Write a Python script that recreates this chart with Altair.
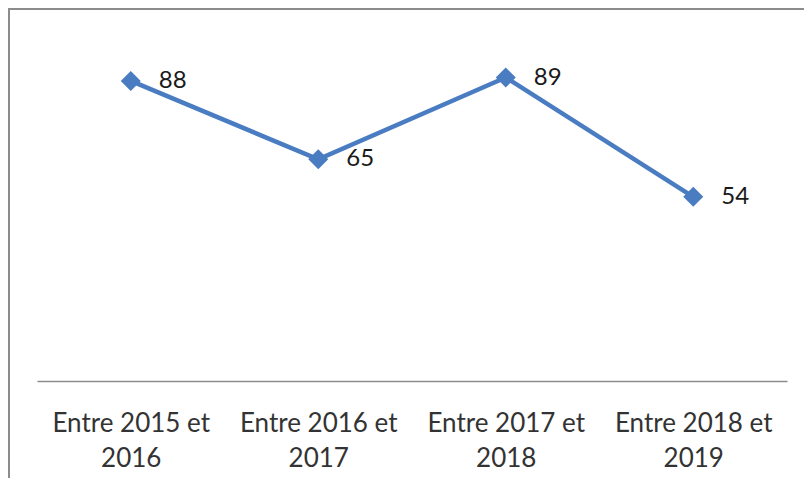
import altair as alt
import pandas as pd

categories = ["Entre 2015 et 2016", "Entre 2016 et 2017", "Entre 2017 et 2018", "Entre 2018 et 2019"]
values = [88, 65, 89, 54]

df = pd.DataFrame({"periode": categories, "valeur": values})

W, H = 750, 341
PL, PT, PR, PB = 29, 32, 17, 97
BLUE = "#4a7cc2"
GRAY = "#8c8c8c"

x_enc = alt.X(
    "periode:N",
    sort=categories,
    scale=alt.Scale(type="point", padding=0.5),
    axis=alt.Axis(
        title=None,
        ticks=False,
        grid=False,
        domainColor=GRAY,
        domainWidth=1.5,
        labelAngle=0,
        labelFont="Lato",
        labelFontSize=26,
        labelColor="#333333",
        labelPadding=29,
        labelLineHeight=35,
        labelExpr="[slice(datum.label, 0, 13), slice(datum.label, 14)]",
        labelBaseline="top",
    ),
)
y_enc = alt.Y("valeur:Q", scale=alt.Scale(domain=[0, 100]), axis=None)

base = alt.Chart(df)

line = base.mark_line(color=BLUE, strokeWidth=4.5).encode(x=x_enc, y=y_enc)
points = base.mark_point(shape="diamond", filled=True, size=400, color=BLUE, opacity=1).encode(x=x_enc, y=y_enc)
labels = base.mark_text(align="left", baseline="middle", dx=28, dy=0, font="Lato", fontSize=24, color="#1a1a1a").encode(
    x=x_enc, y=y_enc, text="valeur:Q"
)

border_top = alt.Chart(pd.DataFrame({"a": [0]})).mark_rule(color=GRAY, strokeWidth=2).encode(
    x=alt.value(-PL), x2=alt.value(W + PR), y=alt.value(-PT + 1)
)
border_left = alt.Chart(pd.DataFrame({"a": [0]})).mark_rule(color=GRAY, strokeWidth=2).encode(
    x=alt.value(-PL + 1), y=alt.value(-PT), y2=alt.value(H + PB)
)

chart = (
    alt.layer(border_top, border_left, line, points, labels)
    .properties(
        width=W,
        height=H,
        padding={"left": PL, "top": PT, "right": PR, "bottom": PB},
        autosize=alt.AutoSizeParams(type="none"),
        background="white",
    )
    .configure_view(stroke=None)
)

chart.save("out.html", embed_options={"renderer": "svg", "actions": False})
